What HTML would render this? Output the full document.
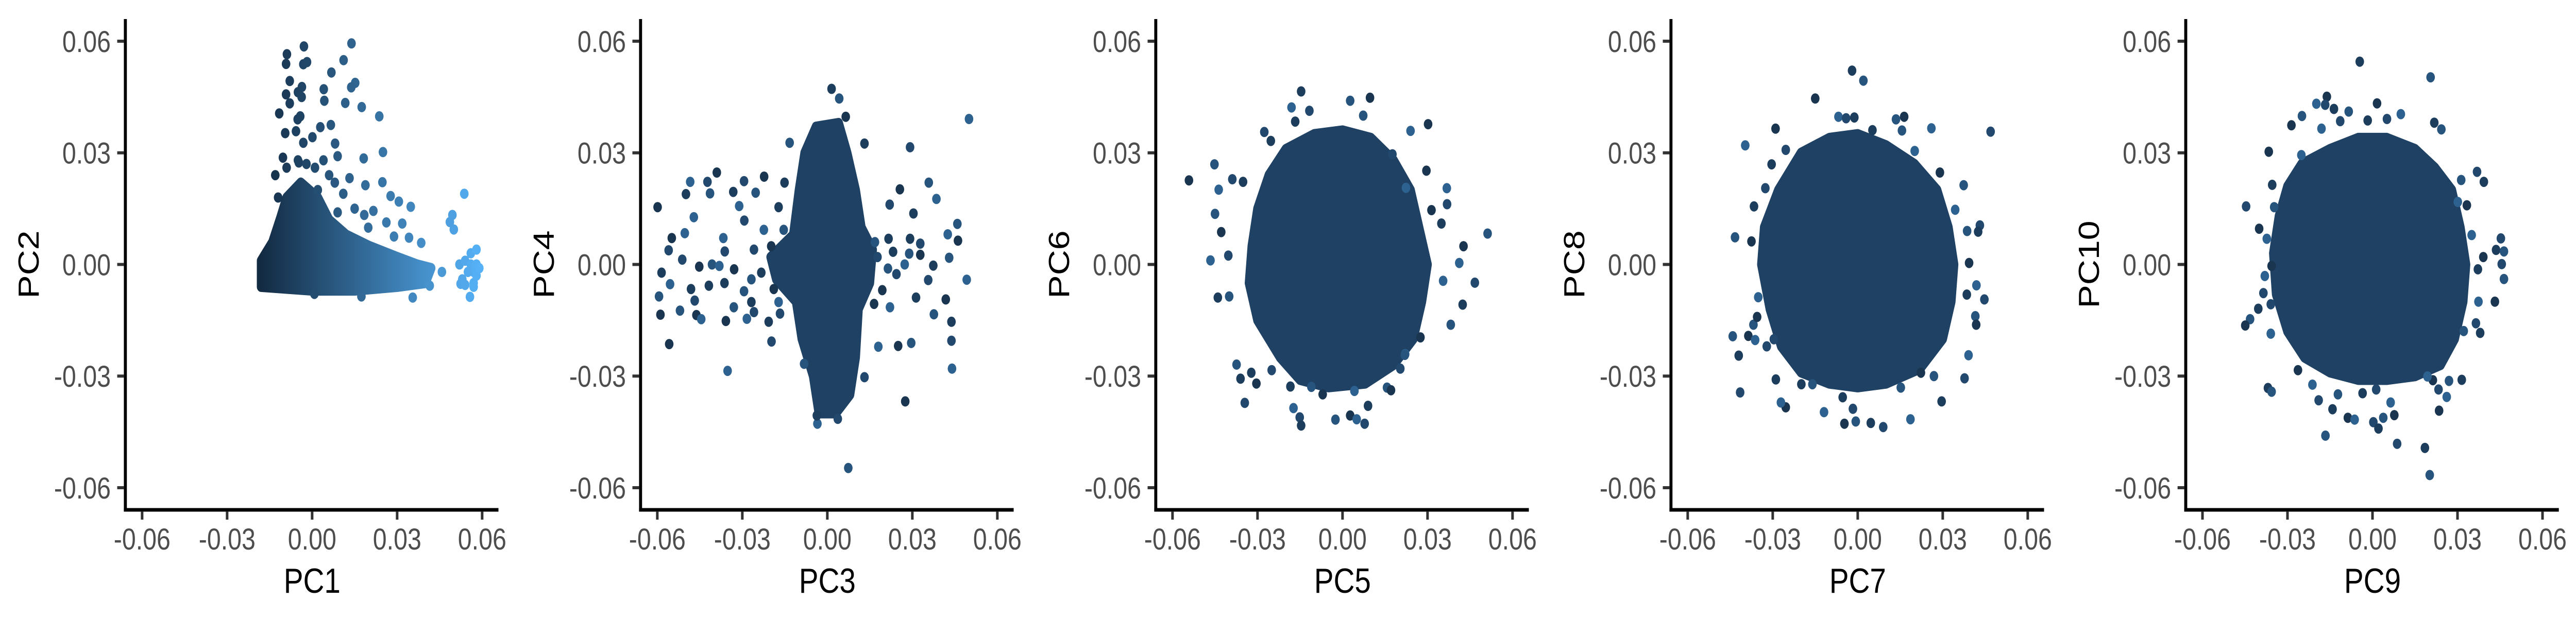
<!DOCTYPE html>
<html><head><meta charset="utf-8"><style>
html,body{margin:0;padding:0;background:#fff;width:100%;height:100%;overflow:hidden;}
svg{display:block;position:absolute;left:0;top:0;width:100vw;height:100vh;}
text{font-family:"Liberation Sans",Arial,sans-serif;}
</style></head><body>
<svg id="chart" viewBox="0 0 6000 1200" preserveAspectRatio="none" xmlns="http://www.w3.org/2000/svg">
<defs>
<linearGradient id="pc1grad" gradientUnits="userSpaceOnUse" x1="608" y1="0" x2="1116" y2="0">
<stop offset="0" stop-color="#132B43"/><stop offset="1" stop-color="#56B1F7"/>
</linearGradient>
</defs>
</svg>
<script>
// ---- data ----
const xTicks = [-0.06, -0.03, 0.00, 0.03, 0.06];
const yTicks = [-0.06, -0.03, 0.00, 0.03, 0.06];
const tickLabels = ["-0.06", "-0.03", "0.00", "0.03", "0.06"];
const xTitles = ["PC1", "PC3", "PC5", "PC7", "PC9"];
const yTitles = ["PC2", "PC4", "PC6", "PC8", "PC10"];

const core1X = [-0.018,-0.018,-0.014,-0.011,-0.009,-0.004,0.002,0.006,0.012,0.02,0.03,0.037,0.042,0.04,0.03,0.015,0];
const core1Y = [-0.006,0.001,0.006,0.013,0.018,0.022,0.018,0.012,0.008,0.005,0.002,0.0,-0.001,-0.005,-0.006,-0.007,-0.007];
const core2X = [-0.004,0.004,0.007,0.01,0.012,0.016,0.015,0.011,0.01,0.008,0.003,-0.003,-0.005,-0.009,-0.011,-0.018,-0.02,-0.012,-0.01,-0.008];
const core2Y = [0.037,0.038,0.03,0.02,0.01,0.004,-0.005,-0.012,-0.025,-0.035,-0.04,-0.04,-0.03,-0.02,-0.01,-0.004,0.002,0.008,0.02,0.03];
const core3X = [-0.02,-0.01,0.0,0.01,0.018,0.024,0.027,0.03,0.028,0.025,0.018,0.008,-0.005,-0.015,-0.022,-0.03,-0.033,-0.032,-0.03,-0.026];
const core3Y = [0.031,0.035,0.036,0.034,0.028,0.02,0.01,0.0,-0.01,-0.02,-0.027,-0.032,-0.033,-0.031,-0.025,-0.015,-0.005,0.005,0.015,0.024];
const core4X = [-0.02,-0.01,0.0,0.01,0.02,0.028,0.032,0.034,0.033,0.03,0.022,0.01,0.0,-0.01,-0.02,-0.027,-0.031,-0.034,-0.033,-0.028];
const core4Y = [0.03,0.034,0.035,0.032,0.027,0.02,0.01,0.0,-0.01,-0.02,-0.028,-0.032,-0.033,-0.032,-0.029,-0.022,-0.012,0.0,0.01,0.02];
const core5X = [-0.025,-0.015,-0.005,0.005,0.015,0.022,0.028,0.031,0.033,0.032,0.029,0.024,0.015,0.005,-0.005,-0.015,-0.024,-0.03,-0.034,-0.035,-0.033,-0.03];
const core5Y = [0.027,0.031,0.034,0.034,0.031,0.026,0.02,0.01,0.0,-0.01,-0.02,-0.027,-0.03,-0.031,-0.031,-0.029,-0.025,-0.018,-0.008,0.003,0.013,0.021];

const pts1X = [-0.0089,-0.0029,0.0139,-0.0092,-0.0031,-0.0018,0.0111,0.0068,-0.0079,-0.0036,-0.0092,-0.005,0.0041,0.0152,0.0138,-0.0079,-0.0037,0.0043,0.0117,0.0175,-0.0116,-0.0042,-0.0051,0.0237,-0.0095,-0.0057,0.0066,0.0029,0.0001,-0.0031,0.0081,0.025,0.0182,0.009,-0.0103,-0.0047,0.0248,0.0188,0.0132,0.0277,0.0306,0.0348,0.0216,0.0184,0.0318,0.0198,0.0262,0.0385,0.0342,0.0289,0.0537,0.0495,0.05,0.0486,0.0355,0.0174,0.0008,0.0458,0.0415,0.0557,0.0524,0.052,0.054,0.056,0.058,0.057,0.058,0.055,0.053,0.057,0.056,0.058,0.054,0.057,0.059,0.002,0.006,0.001,-0.002,-0.009,-0.013,-0.012,-0.005,0.004,0.008,0.011,0.015,0.009];
const pts1Y = [0.0565,0.0586,0.0594,0.0539,0.0538,0.0544,0.0549,0.0516,0.0493,0.0477,0.0457,0.0463,0.0471,0.0488,0.0476,0.0433,0.045,0.044,0.0434,0.0423,0.0406,0.0398,0.039,0.0398,0.0353,0.0358,0.0375,0.0369,0.0342,0.0327,0.0325,0.0302,0.0285,0.0291,0.0287,0.0274,0.0221,0.0213,0.0232,0.0184,0.0169,0.0155,0.0144,0.0133,0.011,0.0099,0.0113,0.0058,0.0072,0.0075,0.019,0.0133,0.0094,0.0114,-0.0089,-0.0086,-0.0079,-0.002,-0.0057,-0.0087,-0.0052,0.0,0.001,0.0,0.0,-0.002,-0.003,-0.002,-0.004,-0.005,0.003,0.004,-0.0055,-0.006,-0.001,0.02,0.024,0.026,0.027,0.026,0.024,0.018,0.028,0.028,0.022,0.019,0.015,0.014];

const pts2X = [0.0015,0.0042,0.0065,0.05,0.0292,0.0131,-0.0133,-0.039,-0.0484,-0.0423,-0.0499,-0.0414,-0.0599,-0.0471,-0.0294,-0.0332,-0.0253,-0.0223,-0.0311,-0.0293,-0.0151,0.0358,0.0256,0.0385,0.022,0.0304,0.0459,-0.0549,-0.0503,-0.056,-0.0585,-0.0594,-0.0589,-0.0555,-0.0512,-0.0481,-0.052,-0.0462,-0.0445,-0.0468,-0.0418,-0.0407,-0.0452,-0.0367,-0.0362,-0.0363,-0.033,-0.0358,-0.0284,-0.0259,-0.0268,-0.0294,-0.0558,-0.0352,-0.0197,-0.0207,0.0074,0.0275,0.044,0.0438,0.0438,0.0296,0.025,0.018,0.0131,0.0313,0.0376,0.0418,0.0492,0.0356,0.0374,0.043,0.0461,0.0425,0.0328,0.0292,0.0289,0.0328,0.0273,0.0244,0.0232,0.0214,0.0194,0.0221,0.0177,0.0216,0.0168,0.0165,-0.0035,0.0037,-0.0037,-0.0082,-0.0198,-0.0224,-0.0259,-0.0172,-0.0154,-0.0189,-0.0172,-0.0167,-0.0233,-0.0268,-0.0329,-0.0381];
const pts2Y = [0.0472,0.0446,0.0397,0.0391,0.0315,0.0325,0.0327,0.0247,0.0222,0.0222,0.0189,0.0191,0.0154,0.0127,0.0224,0.0195,0.0193,0.0236,0.0157,0.0118,0.022,0.022,0.0202,0.0176,0.0161,0.0137,0.0109,0.0071,0.0084,0.0038,-0.0022,-0.0086,-0.0135,-0.0053,0.0013,-0.0066,-0.0124,-0.0136,-0.0147,-0.0097,-0.0057,0,-0.0006,0.0071,0.0035,-0.005,-0.0115,-0.0152,-0.0146,-0.0128,-0.0101,-0.0072,-0.0214,-0.0286,-0.0207,-0.0154,-0.0547,-0.0368,-0.028,-0.0205,-0.0154,-0.0211,-0.0219,-0.0221,-0.0303,-0.0089,-0.0134,-0.0094,-0.0041,-0.0042,-0.0003,0.0018,0.0064,0.0081,0.0056,0.0069,0.0029,0.0026,0,-0.0026,0.0034,-0.0011,-0.0069,-0.0115,0.002,0.0069,0.006,-0.0106,-0.0428,-0.0415,-0.0406,-0.0267,0.0049,0.0093,0.004,0.0154,0.0093,-0.0066,-0.0101,-0.0132,-0.0022,-0.004,-0.0013,-0.0004];

const pts3X = [-0.0146,0.0027,0.0097,-0.018,-0.0117,-0.0167,0.0073,0.0302,0.024,-0.0276,-0.0253,-0.0452,-0.0542,-0.0437,-0.0389,-0.0351,-0.045,-0.0428,-0.0466,-0.0403,-0.044,-0.04,0.0296,0.0368,0.0369,0.0349,0.0512,0.0427,0.0412,0.0467,0.0424,0.0382,0.0275,0.0355,-0.0345,-0.036,-0.0374,-0.0304,-0.0173,-0.0151,-0.0146,-0.0025,0.0027,0.005,0.0078,0.009,0.0157,0.0171,0.0221,0.0204,-0.0184,-0.011,-0.007,0.0042,-0.025,-0.0322,0.022,0.0314,0.0224,0.0176];
const pts3Y = [0.0465,0.044,0.0448,0.0422,0.0413,0.0384,0.04,0.0377,0.0359,0.0356,0.0332,0.0269,0.0226,0.0201,0.0229,0.0222,0.0136,0.0087,0.0011,0.0024,-0.0089,-0.0086,0.0252,0.0205,0.0162,0.011,0.0083,0.0049,0.0004,-0.0049,-0.0108,-0.0162,-0.0196,-0.0044,-0.0372,-0.0307,-0.0269,-0.032,-0.0386,-0.0411,-0.0433,-0.0417,-0.0406,-0.0416,-0.0428,-0.038,-0.0331,-0.0338,-0.0241,-0.028,-0.0328,-0.0329,-0.0349,-0.034,-0.0284,-0.0291,-0.0243,0.0146,0.0206,0.0296];

const pts4X = [-0.002,0.002,-0.015,-0.0068,-0.0041,-0.0012,0.0135,0.0164,0.026,0.0469,0.0052,0.0156,-0.029,-0.0397,-0.0254,-0.0304,0.0374,0.029,0.0201,-0.0326,-0.0366,-0.0433,-0.0375,0.0344,0.0431,0.0425,0.0386,0.0393,0.0419,0.0447,0.0385,0.0415,0.0418,0.0391,0.0377,0.0296,0.0269,0.0223,0.0186,0.009,0.0046,-0.0007,-0.0047,-0.0119,-0.0017,-0.0053,0.0152,-0.0254,-0.0271,-0.0415,-0.042,-0.0441,-0.0386,-0.0362,-0.0321,-0.0289,-0.0368,-0.0355,-0.0351,-0.0296,-0.0199,-0.016];
const pts4Y = [0.0521,0.0494,0.0446,0.0397,0.0393,0.0395,0.039,0.0397,0.0366,0.0357,0.0361,0.036,0.0365,0.032,0.0308,0.0269,0.0213,0.0247,0.0305,0.0205,0.0156,0.0073,0.0062,0.0147,0.0105,0.0088,0.009,0.0004,-0.0056,-0.0094,-0.0081,-0.0139,-0.0162,-0.0244,-0.0306,-0.0368,-0.03,-0.0291,-0.0416,-0.0437,-0.0426,-0.0422,-0.0428,-0.0397,-0.0388,-0.0357,-0.0331,-0.0384,-0.0371,-0.0344,-0.0245,-0.0193,-0.0192,-0.0203,-0.022,-0.0309,-0.0162,-0.0141,-0.0088,-0.0201,-0.0322,-0.0322];

const pts5X = [-0.0045,0.0205,-0.0161,-0.0198,-0.0167,-0.0136,-0.0084,0.0016,0.01,0.0051,-0.0017,-0.0249,-0.0286,-0.018,-0.0114,0.0218,0.0243,-0.0366,-0.0251,0.0369,0.0393,0.0313,0.0333,0.0301,-0.0446,-0.0354,-0.0347,-0.04,-0.0373,0.0453,0.0436,0.0464,0.0391,0.035,0.0456,0.0372,0.0464,0.0432,0.0374,0.0365,0.038,0.0322,-0.0356,-0.038,-0.0385,-0.0403,-0.0432,-0.0449,-0.0359,-0.0359,-0.0369,-0.0356,-0.0263,-0.0212,-0.019,-0.0141,-0.0166,-0.0087,-0.0063,0.0003,0.0021,0.0038,0.0077,0.0064,0.0087,0.0185,0.0202,0.0235,0.0262,0.0233,0.0315,0.027,0.0213,0.0194,0.0013,-0.0035,-0.0122];
const pts5Y = [0.0545,0.0503,0.0451,0.0432,0.0429,0.0418,0.0411,0.0433,0.0404,0.0391,0.0387,0.0399,0.0374,0.0365,0.0385,0.0381,0.0363,0.0303,0.0294,0.0249,0.0222,0.0227,0.0159,0.0168,0.0156,0.0214,0.0154,0.0096,0.0069,0.007,0.0039,0.0035,0.002,0.0079,0.0001,-0.0013,-0.0039,-0.01,-0.01,-0.0158,-0.0184,-0.0179,-0.0004,-0.0031,-0.0077,-0.0119,-0.0147,-0.0164,-0.0186,-0.0107,-0.0332,-0.0342,-0.0284,-0.0323,-0.0365,-0.0389,-0.046,-0.0412,-0.0417,-0.0424,-0.0441,-0.0412,-0.0405,-0.0371,-0.0482,-0.0493,-0.0566,-0.0393,-0.0356,-0.0336,-0.031,-0.0313,-0.0311,-0.0301,-0.0336,-0.0346,-0.0349];

const coresX = [core1X, core2X, core3X, core4X, core5X];
const coresY = [core1Y, core2Y, core3Y, core4Y, core5Y];
const ptsX = [pts1X, pts2X, pts3X, pts4X, pts5X];
const ptsY = [pts1Y, pts2Y, pts3Y, pts4Y, pts5Y];

// ---- layout ----
const NS = "http://www.w3.org/2000/svg";
const svg = document.getElementById("chart");
const axisXs = [292, 1492, 2692, 3892, 5091];
const Y0 = 513.5, YPER = 7225, XOFF = 435, XPER = 6600;
const AXIS_Y = 990, AXIS_TOP = 37, AXIS_W = 869, R = 10;
const palette = ["#1d3d5c","#27547d","#1a3550","#2d6290","#22486d"];

function mk(tag, attrs, parent) {
  const el = document.createElementNS(NS, tag);
  for (const k in attrs) el.setAttribute(k, attrs[k]);
  (parent || svg).appendChild(el);
  return el;
}
function lerpColor(t) {
  t = Math.max(0, Math.min(1, t));
  const a = [0x13, 0x2B, 0x43], b = [0x56, 0xB1, 0xF7];
  return "rgb(" + a.map((v, i) => Math.round(v + (b[i] - v) * t)).join(",") + ")";
}

for (let p = 0; p < 5; p++) {
  const ax = axisXs[p];
  const sx = v => ax + XOFF + v * XPER;
  const sy = v => Y0 - v * YPER;
  const g = mk("g", {});
  
  

  const coreFill = p === 0 ? "url(#pc1grad)" : "#1f4163";
  const ptsStr = coresX[p].map((v, i) => sx(v).toFixed(1) + "," + sy(coresY[p][i]).toFixed(1)).join(" ");
  const core = mk("polygon", {points: ptsStr, fill: coreFill, stroke: coreFill, "stroke-width": 2 * R, "stroke-linejoin": "round"}, g);
  
  

  for (let i = 0; i < ptsX[p].length; i++) {
    const x = ptsX[p][i], y = ptsY[p][i];
    const col = p === 0 ? lerpColor((x + 0.018) / 0.077) : palette[i % palette.length];
    const c = mk("circle", {cx: sx(x).toFixed(1), cy: sy(y).toFixed(1), r: R, fill: col}, g);
    
    
  }

  const ya = mk("line", {x1: ax, y1: AXIS_TOP, x2: ax, y2: AXIS_Y + 3.5, stroke: "#000", "stroke-width": 7}, g);
  
  
  const xa = mk("line", {x1: ax - 3.5, y1: AXIS_Y, x2: ax + AXIS_W, y2: AXIS_Y, stroke: "#000", "stroke-width": 7}, g);
  
  

  for (let i = 0; i < xTicks.length; i++) {
    const tx = sx(xTicks[i]);
    const t = mk("line", {x1: tx, y1: AXIS_Y + 3, x2: tx, y2: AXIS_Y + 19, stroke: "#333", "stroke-width": 6}, g);
    
    
    const lbl = mk("text", {x: tx, y: 1067, "text-anchor": "middle", "font-size": 58, fill: "#4d4d4d"}, g);
    lbl.textContent = tickLabels[i];
    
    
  }
  for (let i = 0; i < yTicks.length; i++) {
    const ty = sy(yTicks[i]);
    const t = mk("line", {x1: ax - 19, y1: ty, x2: ax - 3, y2: ty, stroke: "#333", "stroke-width": 6}, g);
    
    
    const lbl = mk("text", {x: ax - 34, y: ty + 21, "text-anchor": "end", "font-size": 58, fill: "#4d4d4d"}, g);
    lbl.textContent = tickLabels[i];
    
    
  }
  const xt = mk("text", {x: sx(0), y: 1151, "text-anchor": "middle", "font-size": 68, fill: "#000"}, g);
  xt.textContent = xTitles[p];
  
  
  const yx = ax - 226 + 24, yy = (AXIS_TOP + AXIS_Y) / 2;
  const yt = mk("text", {x: yx, y: yy, "text-anchor": "middle", "font-size": 68, fill: "#000", transform: "rotate(-90 " + yx + " " + yy + ")"}, g);
  yt.textContent = yTitles[p];
  
  
}
</script>
</body></html>
